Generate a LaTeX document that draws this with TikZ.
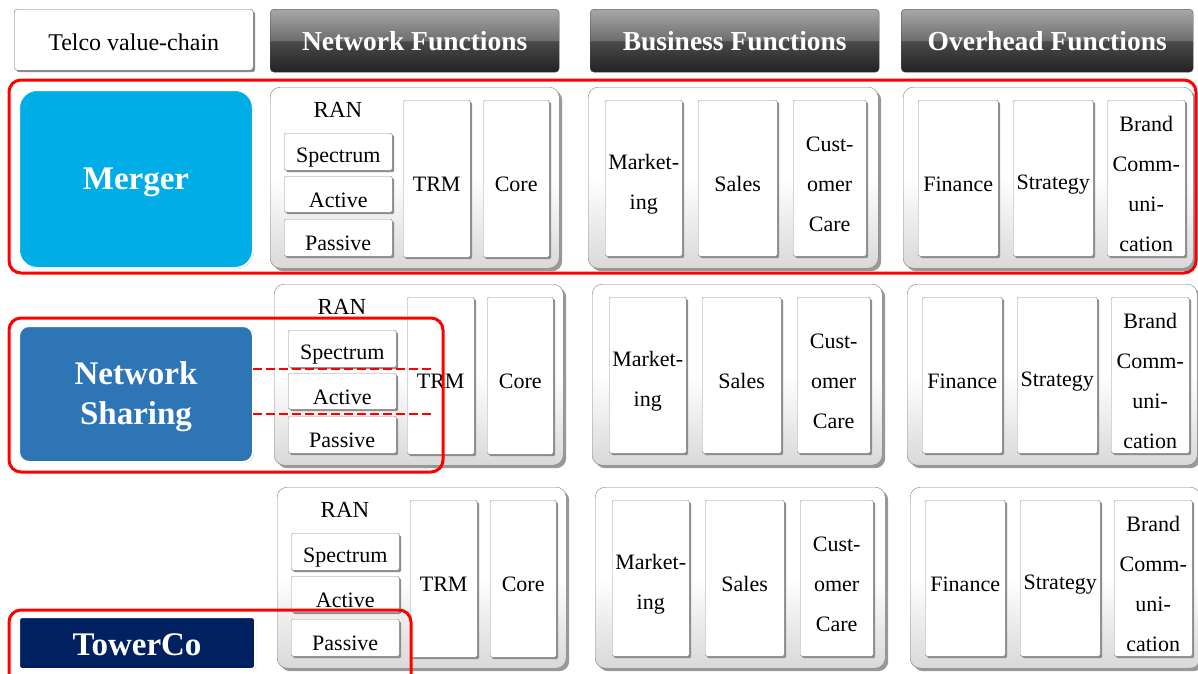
\documentclass[tikz,border=0pt]{standalone}
\usepackage{fontspec}
\setmainfont{Liberation Serif}
\newfontfamily\tnr{Liberation Serif}
\usetikzlibrary{shadows}
\definecolor{mergerblue}{HTML}{00ADE6}
\definecolor{nsblue}{HTML}{2E75B6}
\definecolor{towernavy}{HTML}{002060}
\definecolor{hdB}{HTML}{222222}
\definecolor{hdM}{HTML}{4A4A4A}
\definecolor{hlM}{HTML}{6E6E6E}
\definecolor{hlT}{HTML}{A8A8A8}
\pgfdeclareverticalshading{glossy}{100bp}{color(0bp)=(hdB); color(25bp)=(hdB); color(49.5bp)=(hdM); color(50.5bp)=(hlM); color(75bp)=(hlT); color(100bp)=(hlT)}
\tikzset{
  hdr/.style={rounded corners=4pt, draw=black!70, shade, shading=glossy, inner sep=0pt, anchor=north west},
  hdrtext/.style={text=white, font={\tnr\fontsize{27.5}{30}\selectfont\bfseries}, inner sep=0pt},
  telco/.style={rounded corners=3pt, draw=black!55, fill=white, inner sep=0pt, anchor=north west,
    drop shadow={shadow xshift=2pt, shadow yshift=-2pt, fill=black!45, opacity=1}},
  telcotext/.style={font={\tnr\fontsize{24}{26}\selectfont}, inner sep=0pt},
  grp/.style={rounded corners=10pt, draw=black!50, top color=white, bottom color=black!15, middle color=white,
    inner sep=0pt, anchor=north west,
    drop shadow={shadow xshift=3pt, shadow yshift=-3pt, fill=black!40, opacity=1}},
  cell/.style={draw=black!45, fill=white, rounded corners=1.5pt, inner sep=0pt, anchor=north west,
    drop shadow={shadow xshift=2pt, shadow yshift=-2pt, fill=black!45, opacity=1}},
  celltext/.style={font={\tnr\fontsize{22}{40}\selectfont}, align=center, inner sep=0pt},
  ranlbl/.style={font={\tnr\fontsize{23}{26}\selectfont}, inner sep=0pt},
  kind/.style={inner sep=0pt, anchor=north west, draw=white, line width=2pt,
    drop shadow={shadow xshift=1pt, shadow yshift=-1pt, fill=black!25, opacity=1}},
  kindtext/.style={text=white, font={\tnr\fontsize{33}{40}\selectfont\bfseries}, align=center, inner sep=0pt},
  redbox/.style={draw=red, line width=3pt, rounded corners=12pt},
  reddash/.style={draw=red, line width=2pt, dash pattern=on 9pt off 4pt},
}
% box with its text set a little below the middle, as in the reference
\newcommand\cellnode[6]{%
  \node[cell, minimum width=#4, minimum height=#5] (#1) at (#2,#3) {};
  \node[celltext] (#1t) at ([yshift=-6pt]#1.center) {#6};}
\newcommand\valuerow[3]{%
  \begin{scope}[shift={(#1,#2)}]
    \node[grp, minimum width=289, minimum height=181] (net#3) at (270,87) {};
    \node[grp, minimum width=290, minimum height=181] (bus#3) at (588,87) {};
    \node[grp, minimum width=290, minimum height=181] (ovh#3) at (903,87) {};
    \node[ranlbl] (ran#3) at (338,110) {RAN};
    \cellnode{spec#3}{284}{133}{108}{37}{Spectrum}
    \cellnode{act#3}{284}{176}{108}{36}{Active}
    \cellnode{pas#3}{284}{219}{108}{37}{Passive}
    \cellnode{trm#3}{403}{100}{67}{157}{TRM}
    \cellnode{core#3}{483}{100}{66}{157}{Core}
    \cellnode{mkt#3}{605}{100}{77}{156}{Market-\\ing}
    \cellnode{sal#3}{698}{100}{79}{156}{Sales}
    \cellnode{cc#3}{793}{100}{73}{156}{Cust-\\omer\\Care}
    \cellnode{fin#3}{918}{100}{80}{156}{Finance}
    \cellnode{str#3}{1013}{100}{80}{156}{Strategy}
    \cellnode{brd#3}{1107}{100}{78}{156}{Brand\\Comm-\\uni-\\cation}
  \end{scope}}
\begin{document}
\begin{tikzpicture}[x=1pt,y=-1pt]
\useasboundingbox (0,0) rectangle (1198,673);
\clip (0,0) rectangle (1198,673);
\fill[white] (0,0) rectangle (1198,673);
% headers
\node[telco, minimum width=239, minimum height=61] (tv) at (14,9) {};
\node[telcotext] (tvt) at ([yshift=-3pt]tv.center) {Telco value-chain};
\node[hdr, minimum width=289, minimum height=63] (nf) at (270,9) {};
\node[hdrtext] (nft) at (nf.center) {Network Functions};
\node[hdr, minimum width=289, minimum height=63] (bf) at (590,9) {};
\node[hdrtext] (bft) at (bf.center) {Business Functions};
\node[hdr, minimum width=292, minimum height=63] (of) at (901,9) {};
\node[hdrtext] (oft) at (of.center) {Overhead Functions};
% rows
\valuerow{0}{0}{A}
\valuerow{4}{197}{B}
\valuerow{7}{400}{C}
% kinds
\node[kind, fill=mergerblue, rounded corners=18pt, minimum width=234, minimum height=178] (merger) at (18,89) {};
\node[kindtext] (mergert) at ([yshift=-3pt]merger.center) {Merger};
\node[kind, fill=nsblue, rounded corners=10pt, minimum width=234, minimum height=136] (ns) at (18,325) {};
\node[kindtext] (nst) at ([yshift=-3pt]ns.center) {Network\\Sharing};
\node[kind, fill=towernavy, rounded corners=3pt, minimum width=236, minimum height=52] (tower) at (18,616) {};
\node[kindtext] (towert) at ([yshift=-2pt]tower.center) {TowerCo};
% red highlights
\draw[redbox] (9,80) rectangle (1196,273);
\draw[redbox] (9,318) rectangle (443,472);
\draw[redbox] (9,610) rectangle (411,700);
\coordinate (d1a) at (253,369);
\coordinate (d1b) at (434,369);
\coordinate (d2a) at (253,414);
\coordinate (d2b) at (434,414);
\draw[reddash] (d1a) -- (d1b);
\draw[reddash] (d2a) -- (d2b);
\end{tikzpicture}
\end{document}
